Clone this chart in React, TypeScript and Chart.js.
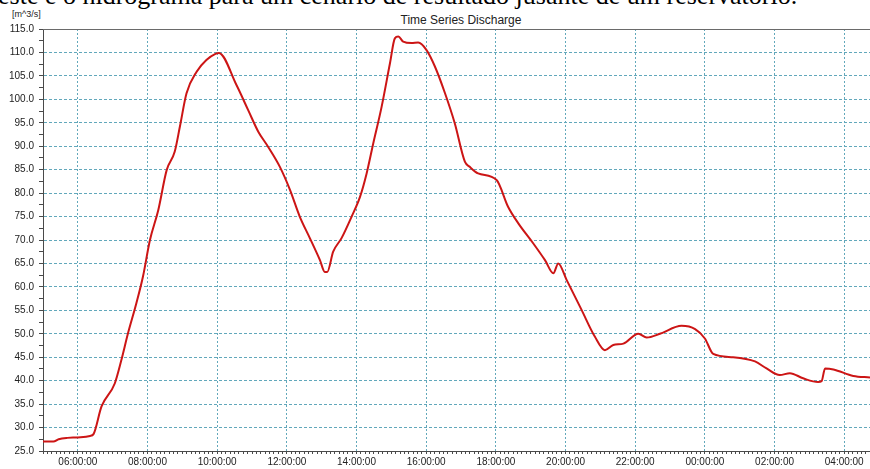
import React, { useEffect, useRef } from "react";
import { Chart, registerables } from "chart.js";

Chart.register(...registerables);

// Hours counted from 00:00 of the first day (values above 24 are the next day)
const hours = [
  5.0, 5.3, 5.45, 5.7, 6.0, 6.35, 6.45, 6.68, 7.06, 7.25, 7.44, 7.68, 7.87, 8.07, 8.31, 8.55,
  8.78, 8.93, 9.12, 9.41, 9.69, 9.95, 10.05, 10.55, 10.89, 11.18, 11.46, 11.8, 12.09, 12.37,
  12.66, 12.95, 13.09, 13.16, 13.33, 13.57, 13.86, 14.1, 14.29, 14.48, 14.72, 14.96, 15.1,
  15.2, 15.34, 15.58, 15.77, 16.01, 16.25, 16.54, 16.82, 17.11, 17.25, 17.49, 18.02, 18.35,
  18.64, 19.07, 19.41, 19.65, 19.79, 20.03, 20.46, 20.84, 21.13, 21.37, 21.66, 22.09, 22.33,
  22.71, 23.33, 23.72, 24.0, 24.24, 24.81, 25.44, 25.77, 26.15, 26.44, 26.82, 27.25, 27.35,
  27.45, 27.69, 28.26, 28.74,
];

// Discharge [m^3/s]
const discharge = [
  27.0, 27.0, 27.5, 27.8, 27.9, 28.2, 28.6, 34.5, 39.4, 44.4, 50.1, 56.5, 62.2, 70.0, 76.4, 84.9,
  88.8, 94.2, 101.3, 105.9, 108.4, 109.7, 109.9, 103.1, 97.7, 93.1, 89.9, 85.6, 80.7, 75.0,
  70.4, 65.7, 63.2, 63.2, 67.5, 70.4, 75.0, 79.2, 84.2, 90.6, 98.4, 107.7, 113.0,
  113.4, 112.3, 112.0, 112.1, 110.5, 107.0, 101.3, 94.9, 86.7, 85.6, 84.2, 82.8, 77.1,
  73.6, 69.3, 65.7, 62.9, 65.0, 61.5, 55.1, 49.4, 46.5, 47.6, 47.9, 50.0, 49.2,
  50.0, 51.7, 51.0, 49.0, 45.7, 45.0, 44.1, 42.6, 41.2, 41.6, 40.5, 39.7, 39.9,
  42.6, 42.4, 41.0, 40.7,
];

const xLabelHours = [6, 8, 10, 12, 14, 16, 18, 20, 22, 24, 26, 28];
const yLabelValues = [25, 30, 35, 40, 45, 50, 55, 60, 65, 70, 75, 80, 85, 90, 95, 100, 105, 110, 115];

const X_MIN = 5;
const X_MAX = 28.74;
const X_MINOR_STEP = 0.125;
const Y_MIN = 25;
const Y_MAX = 115;
const Y_MINOR_STEP = 2.5;

const TITLE = "Time Series Discharge";
const Y_UNIT = "[m^3/s]";
const CAPTION = "este é o hidrograma para um cenário de resultado jusante de um reservatório.";

const GRID = "#62a8bb";
const AXIS = "#4a4a4a";
const LINE = "#cc1515";
const TICK_FONT = { family: "'Liberation Sans Narrow', 'Liberation Sans', Arial, sans-serif", size: 10 };

function fmtHour(v: number): string {
  const h = ((v % 24) + 24) % 24;
  return `${String(h).padStart(2, "0")}:00:00`;
}

const topLinePlugin = {
  id: "topLine",
  afterDraw(chart: any) {
    const { ctx, chartArea } = chart;
    ctx.save();
    ctx.strokeStyle = "#6a6a6a";
    ctx.lineWidth = 1;
    ctx.beginPath();
    ctx.moveTo(chartArea.left, chartArea.top + 0.5);
    ctx.lineTo(chartArea.right, chartArea.top + 0.5);
    ctx.stroke();
    ctx.restore();
  },
};

export default function App() {
  const canvasRef = useRef<HTMLCanvasElement | null>(null);

  useEffect(() => {
    const canvas = canvasRef.current;
    if (!canvas) return;
    const data = hours.map((h, i) => ({ x: h, y: discharge[i] }));
    const chart = new Chart(canvas, {
      type: "line",
      data: {
        datasets: [
          {
            data,
            borderColor: LINE,
            borderWidth: 2,
            pointRadius: 0,
            fill: false,
            cubicInterpolationMode: "monotone",
          },
        ],
      },
      options: {
        responsive: false,
        animation: false,
        devicePixelRatio: 1,
        parsing: false,
        normalized: true,
        layout: { padding: { top: 29, left: 0, right: 0, bottom: 0 } },
        plugins: { legend: { display: false }, tooltip: { enabled: false }, title: { display: false } },
        scales: {
          x: {
            type: "linear",
            min: X_MIN,
            max: X_MAX,
            afterBuildTicks: (s: any) => {
              const t: any[] = [];
              for (let v = X_MIN; v <= X_MAX + 1e-9; v += X_MINOR_STEP) t.push({ value: v });
              s.ticks = t;
            },
            afterFit: (s: any) => {
              s.height = 18;
            },
            grid: {
              color: (c: any) => (c.tick && xLabelHours.includes(c.tick.value) ? GRID : "rgba(0,0,0,0)"),
              tickColor: AXIS,
              tickLength: 3,
              lineWidth: 1,
            },
            border: { display: true, color: AXIS, width: 1, dash: [2, 2] },
            ticks: {
              autoSkip: false,
              maxRotation: 0,
              minRotation: 0,
              padding: 2,
              color: "#222",
              font: TICK_FONT,
              callback: (v: any) => (xLabelHours.includes(Number(v)) ? fmtHour(Number(v)) : ""),
            },
          },
          y: {
            type: "linear",
            min: Y_MIN,
            max: Y_MAX,
            afterBuildTicks: (s: any) => {
              const t: any[] = [];
              for (let v = Y_MIN; v <= Y_MAX + 1e-9; v += Y_MINOR_STEP) t.push({ value: v });
              s.ticks = t;
            },
            afterFit: (s: any) => {
              s.width = 43;
            },
            grid: {
              color: (c: any) => (c.tick && yLabelValues.includes(c.tick.value) ? GRID : "rgba(0,0,0,0)"),
              tickColor: AXIS,
              tickLength: 4,
              lineWidth: 1,
            },
            border: { display: true, color: AXIS, width: 1, dash: [3, 2] },
            ticks: {
              autoSkip: false,
              padding: 5,
              color: "#222",
              font: TICK_FONT,
              callback: (v: any) => (yLabelValues.includes(Number(v)) ? Number(v).toFixed(1) : ""),
            },
          },
        },
      },
      plugins: [topLinePlugin],
    } as any);
    return () => chart.destroy();
  }, []);

  return (
    <div style={{ position: "absolute", left: 0, top: 0, width: 870, height: 469, overflow: "hidden", background: "#fff" }}>
      <div
        style={{
          position: "absolute",
          left: -2,
          top: -17,
          whiteSpace: "nowrap",
          fontFamily: "'Liberation Serif', 'Times New Roman', serif",
          fontSize: 26,
          lineHeight: "26px",
          color: "#000",
        }}
      >
        {CAPTION}
      </div>
      <div
        style={{
          position: "absolute",
          left: 12,
          top: 9,
          fontFamily: "'Liberation Sans', Arial, sans-serif",
          fontSize: 9,
          lineHeight: "10px",
          color: "#222",
        }}
      >
        {Y_UNIT}
      </div>
      <div
        style={{
          position: "absolute",
          left: 0,
          width: 922,
          top: 13,
          textAlign: "center",
          fontFamily: "'Liberation Sans', Arial, sans-serif",
          fontSize: 12,
          lineHeight: "14px",
          color: "#222",
        }}
      >
        {TITLE}
      </div>
      <canvas ref={canvasRef} width={870} height={469} style={{ position: "absolute", left: 0, top: 0 }} />
    </div>
  );
}
